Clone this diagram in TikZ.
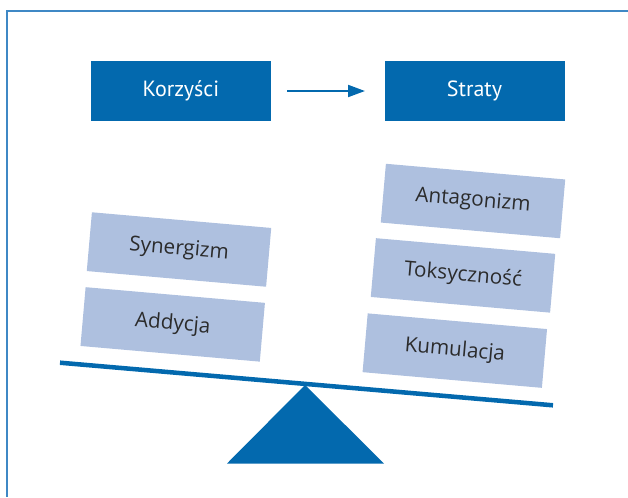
\documentclass[tikz,border=0pt]{standalone}
\usepackage{fontspec}
\setmainfont{Open Sans}
\newfontfamily\topfont{PT Sans}
\usetikzlibrary{arrows.meta}
\definecolor{darkblue}{HTML}{0369AE}
\definecolor{lightblue}{HTML}{AEC0DF}
\definecolor{framecol}{HTML}{3F88C5}
\definecolor{txt}{HTML}{2B2B2B}
\tikzset{
  topbox/.style={fill=darkblue, text=white, minimum width=135pt, minimum height=45pt, inner sep=0pt, font=\topfont\fontsize{16.5}{19}\selectfont},
  weightbox/.style={fill=lightblue, text=txt, minimum width=135pt, minimum height=44.25pt, inner sep=0pt, rotate=-5, font=\fontsize{15.5}{18}\selectfont},
  flow/.style={draw=darkblue, line width=1.1pt, -{Triangle[length=12.5pt,width=9pt]}},
  beam/.style={draw=darkblue, line width=3.4pt},
}
\begin{document}
\begin{tikzpicture}[x=0.75pt,y=-0.75pt]
\useasboundingbox (0,0) rectangle (628,497);
\draw[framecol, line width=1.2pt] (628,11) -- (6.7,11) -- (6.7,497);
% top boxes
\node[topbox] (korzysci) at (181,91) {Korzyści};
\node[topbox] (straty) at (474.5,91) {Straty};
\draw[flow, shorten <=12pt, shorten >=14.5pt] (korzysci.east) -- (straty.west);
% weights
\node[weightbox] (syn) at (179,249.5) {Synergizm};
\node[weightbox] (add) at (172.7,324.4) {Addycja};
\node[weightbox] (ant) at (473,201) {Antagonizm};
\node[weightbox] (tok) at (463,275.4) {Toksyczność};
\node[weightbox] (kum) at (454.8,350.6) {Kumulacja};
% beam and fulcrum
\coordinate (bl) at (60,362.7);
\coordinate (br) at (553,405.3);
\draw[beam] (bl) -- (br);
\fill[darkblue] (305,385) -- (384,463.5) -- (227,463.5) -- cycle;
\end{tikzpicture}
\end{document}
